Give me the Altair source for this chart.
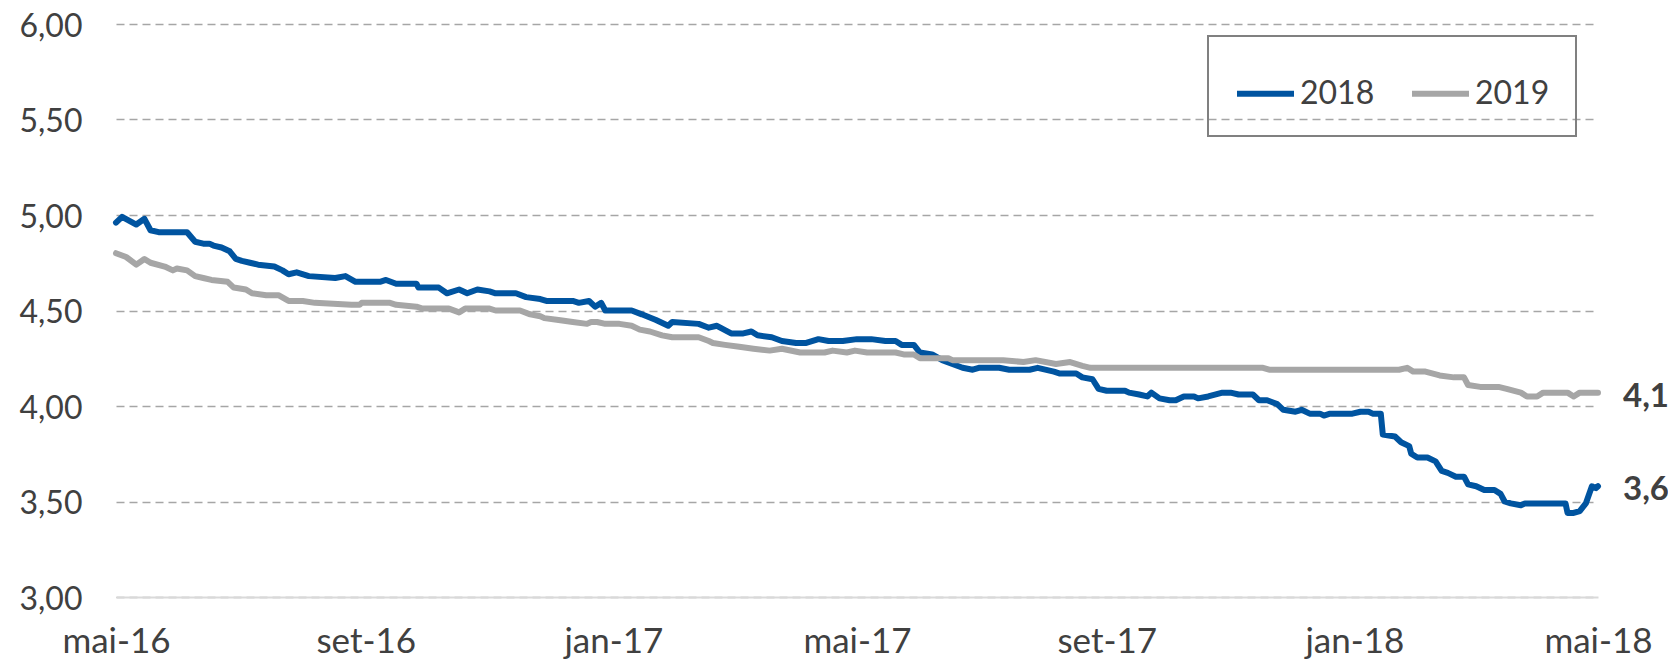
import altair as alt
import pandas as pd

series_names = ["2018", "2019"]
series_colors = ["#0054A0", "#A6A6A6"]
start_date = "2016-05-01"

# days since start_date, and rate values
days_2018 = [0, 3, 10, 14, 17, 21, 35, 39, 43, 46, 48, 52, 56, 59, 62, 66, 70, 78, 82, 85,
             89, 95, 108, 113, 118, 130, 133, 138, 148, 149, 151, 159, 163, 169, 173, 178, 184, 187, 197, 202,
             209, 212, 225, 228, 233, 236, 239, 241, 254, 259, 266, 272, 274, 287, 292, 296, 303, 309, 313, 316,
             323, 328, 335, 340, 346, 351, 358, 365, 372, 379, 384, 387, 393, 396, 402, 407, 412, 417, 422, 425,
             435, 440, 450, 454, 462, 465, 473, 476, 481, 484, 488, 497, 499, 504, 508, 510, 514, 519, 522, 526,
             531, 533, 538, 545, 549, 553, 560, 563, 567, 572, 575, 581, 584, 588, 593, 595, 598, 609, 613, 617,
             619, 623, 624, 630, 633, 637, 638, 641, 646, 650, 653, 656, 660, 664, 666, 670, 674, 679, 682, 684,
             687, 692, 694, 714, 715, 718, 721, 724, 727, 729, 730]
vals_2018 = [4.96, 4.99, 4.95, 4.98, 4.92, 4.91, 4.91, 4.86, 4.85, 4.85, 4.84, 4.83, 4.81, 4.77, 4.76, 4.75, 4.74, 4.73, 4.71, 4.69,
             4.70, 4.68, 4.67, 4.68, 4.65, 4.65, 4.66, 4.64, 4.64, 4.62, 4.62, 4.62, 4.59, 4.61, 4.59, 4.61, 4.60, 4.59, 4.59, 4.57,
             4.56, 4.55, 4.55, 4.54, 4.55, 4.52, 4.54, 4.50, 4.50, 4.48, 4.45, 4.42, 4.44, 4.43, 4.41, 4.42, 4.38, 4.38, 4.39, 4.37,
             4.36, 4.34, 4.33, 4.33, 4.35, 4.34, 4.34, 4.35, 4.35, 4.34, 4.34, 4.32, 4.32, 4.28, 4.27, 4.24, 4.22, 4.20, 4.19, 4.20,
             4.20, 4.19, 4.19, 4.20, 4.18, 4.17, 4.17, 4.15, 4.14, 4.09, 4.08, 4.08, 4.07, 4.06, 4.05, 4.07, 4.04, 4.03, 4.03, 4.05,
             4.05, 4.04, 4.05, 4.07, 4.07, 4.06, 4.06, 4.03, 4.03, 4.01, 3.98, 3.97, 3.98, 3.96, 3.96, 3.95, 3.96, 3.96, 3.97, 3.97,
             3.96, 3.96, 3.85, 3.84, 3.81, 3.79, 3.75, 3.73, 3.73, 3.71, 3.66, 3.65, 3.63, 3.63, 3.59, 3.58, 3.56, 3.56, 3.54, 3.50,
             3.49, 3.48, 3.49, 3.49, 3.44, 3.44, 3.45, 3.49, 3.58, 3.57, 3.58]

days_2019 = [0, 5, 10, 14, 17, 24, 28, 30, 35, 39, 43, 47, 55, 58, 64, 67, 74, 80, 85, 92,
             98, 116, 120, 121, 135, 138, 148, 151, 164, 169, 172, 184, 187, 199, 204, 209, 211, 218, 225, 232,
             234, 237, 241, 248, 254, 258, 263, 269, 274, 287, 292, 294, 300, 307, 314, 322, 328, 337, 343, 349,
             353, 360, 364, 370, 384, 388, 393, 396, 402, 410, 412, 430, 437, 447, 453, 463, 470, 476, 480, 565,
             568, 632, 636, 639, 645, 652, 659, 664, 666, 672, 673, 681, 685, 692, 695, 700, 703, 715, 718, 721,
             730]
vals_2019 = [4.80, 4.78, 4.74, 4.77, 4.75, 4.73, 4.71, 4.72, 4.71, 4.68, 4.67, 4.66, 4.65, 4.62, 4.61, 4.59, 4.58, 4.58, 4.55, 4.55,
             4.54, 4.53, 4.53, 4.54, 4.54, 4.53, 4.52, 4.51, 4.51, 4.49, 4.51, 4.51, 4.50, 4.50, 4.48, 4.47, 4.46, 4.45, 4.44, 4.43,
             4.44, 4.44, 4.43, 4.43, 4.42, 4.40, 4.39, 4.37, 4.36, 4.36, 4.34, 4.33, 4.32, 4.31, 4.30, 4.29, 4.30, 4.28, 4.28, 4.28,
             4.29, 4.28, 4.29, 4.28, 4.28, 4.27, 4.27, 4.25, 4.25, 4.25, 4.24, 4.24, 4.24, 4.23, 4.24, 4.22, 4.23, 4.21, 4.20, 4.20,
             4.19, 4.19, 4.20, 4.18, 4.18, 4.16, 4.15, 4.15, 4.11, 4.10, 4.10, 4.10, 4.09, 4.07, 4.05, 4.05, 4.07, 4.07, 4.05, 4.07,
             4.07]

y_ticks = [3.0, 3.5, 4.0, 4.5, 5.0, 5.5, 6.0]
x_ticks = ["2016-05-01", "2016-09-01", "2017-01-01", "2017-05-01", "2017-09-01", "2018-01-01", "2018-05-01"]
month_abbr_pt = ["jan", "fev", "mar", "abr", "mai", "jun", "jul", "ago", "set", "out", "nov", "dez"]


def to_frame(name, days, vals):
    dates = pd.Timestamp(start_date) + pd.to_timedelta(days, unit="D")
    return pd.DataFrame({"date": dates.strftime("%Y-%m-%d"), "value": vals, "series": name})


df = pd.concat([to_frame("2018", days_2018, vals_2018),
                to_frame("2019", days_2019, vals_2019)], ignore_index=True)

last = df.groupby("series").tail(1).copy()
last["label"] = last["value"].map(lambda v: f"{v:.1f}".replace(".", ","))


def dt(s):
    y, m, d = map(int, s.split("-"))
    return alt.DateTime(year=y, month=m, date=d, utc=True)


month_arr = "[" + ",".join(f"'{m}'" for m in month_abbr_pt) + "]"
x_label_expr = month_arr + "[utcmonth(datum.value)] + '-' + utcFormat(datum.value, '%y')"

FONT = "Lato"
TXT = "#404040"

x_enc = alt.X(
    "date:T",
    scale=alt.Scale(type="utc", domain=[dt(x_ticks[0]), dt(x_ticks[-1])]),
    axis=alt.Axis(values=[dt(s) for s in x_ticks], labelExpr=x_label_expr, title=None,
                  grid=False, ticks=False, domain=True, domainColor="#D9D9D9", domainWidth=2,
                  labelFontSize=35, labelPadding=27, labelColor=TXT, labelFont=FONT,
                  labelFlush=False, labelOverlap=False),
)
y_enc = alt.Y(
    "value:Q",
    scale=alt.Scale(domain=[y_ticks[0], y_ticks[-1]], nice=False, zero=False),
    axis=alt.Axis(values=y_ticks, labelExpr="replace(format(datum.value, '.2f'), '.', ',')",
                  title=None, grid=True, gridDash=[8, 5], gridColor="#A6A6A6", gridWidth=1.5,
                  ticks=False, domain=False, labelPadding=34, labelFontSize=32, labelOffset=2,
                  labelColor=TXT, labelFont=FONT),
)

lines = alt.Chart(df).mark_line(strokeWidth=6, strokeJoin="round", strokeCap="round").encode(
    x=x_enc,
    y=y_enc,
    color=alt.Color(
        "series:N",
        scale=alt.Scale(domain=series_names, range=series_colors),
        legend=alt.Legend(title=None, orient="none", legendX=1092, legendY=12, direction="horizontal",
                          symbolType="stroke", symbolSize=3249, symbolStrokeWidth=6,
                          labelFontSize=32, labelColor=TXT, labelFont=FONT, labelOffset=3,
                          columnPadding=25, padding=26, strokeColor="#808080"),
    ),
)

labels = alt.Chart(last).mark_text(align="left", baseline="middle", dx=25, dy=4, fontSize=33,
                                   fontWeight="bold", color=TXT, font=FONT).encode(
    x="date:T",
    y="value:Q",
    text="label:N",
)

chart = alt.layer(lines, labels).properties(
    width=1482,
    height=573,
    padding={"left": 108, "top": 16, "right": 70, "bottom": 62},
    autosize=alt.AutoSizeParams(type="none"),
).configure(font=FONT).configure_view(stroke=None, strokeWidth=0).configure_legend(strokeWidth=2)

chart.save("out.html", embed_options={"renderer": "svg", "actions": False})
